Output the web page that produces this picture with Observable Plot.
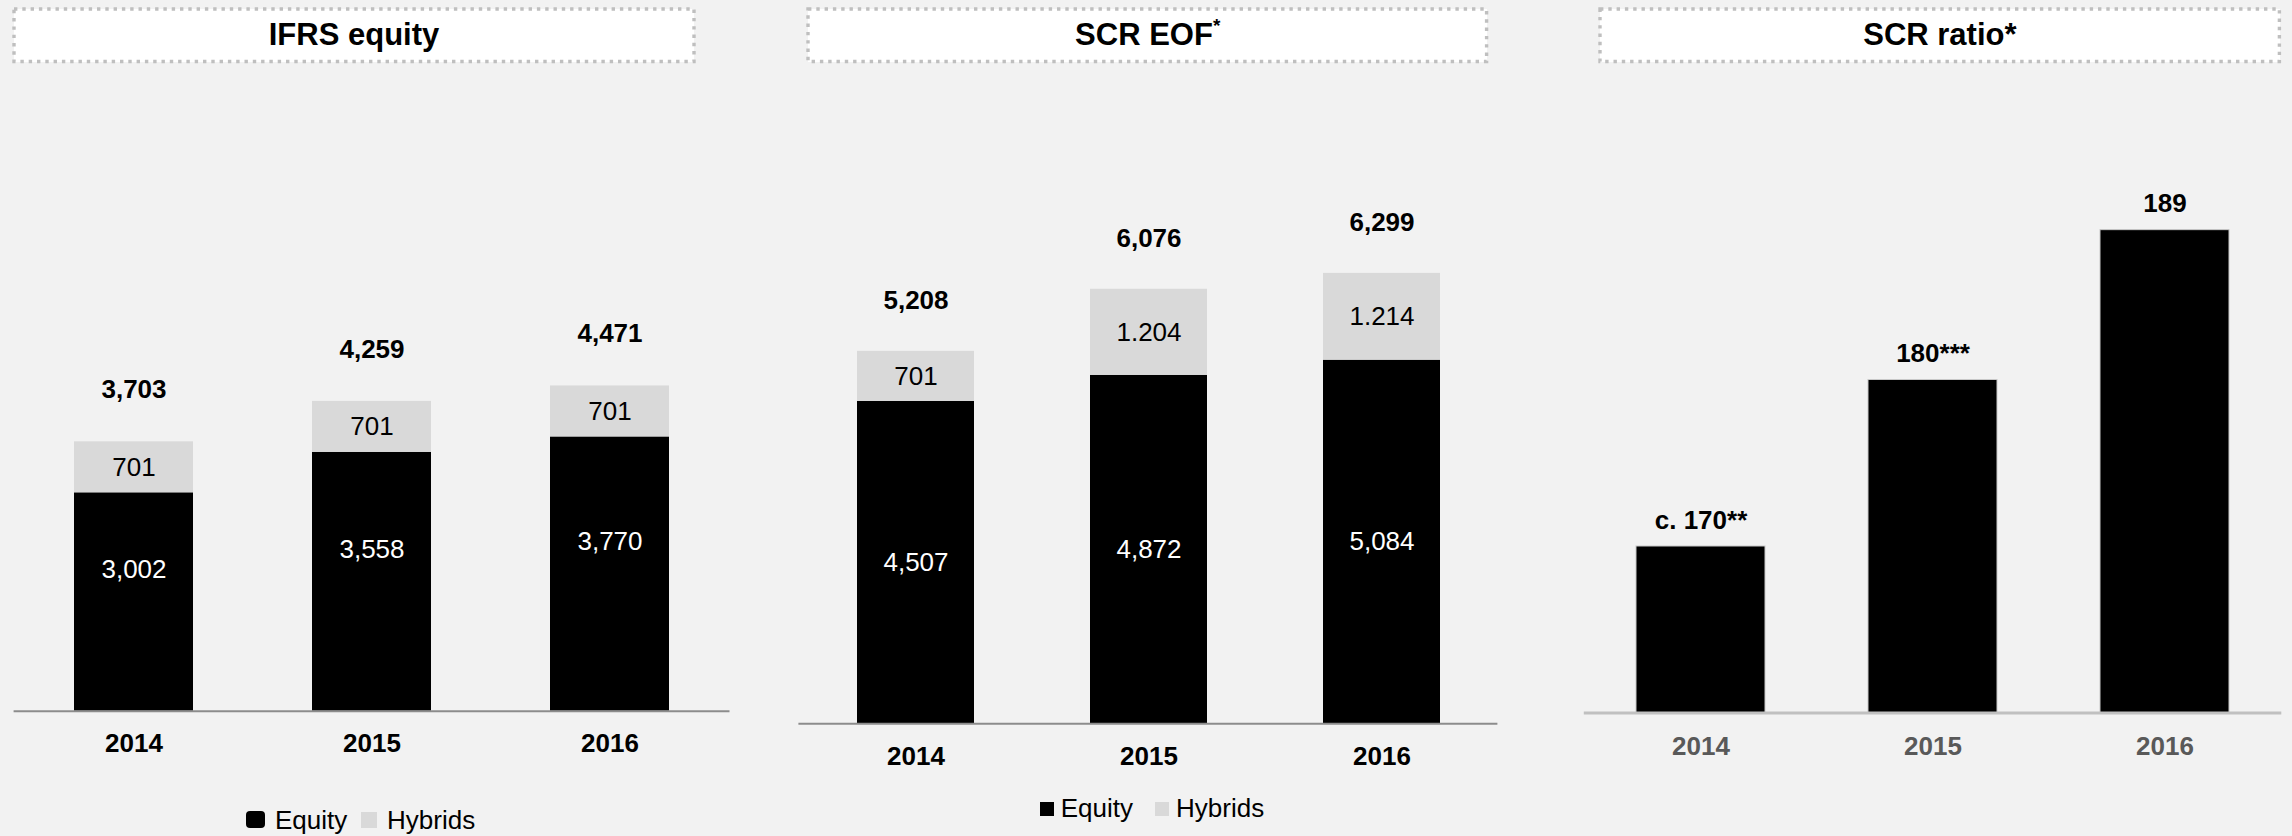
<!DOCTYPE html>
<html>
<head>
<meta charset="utf-8">
<script src="https://cdn.jsdelivr.net/npm/d3@7"></script>
<script src="https://cdn.jsdelivr.net/npm/@observablehq/plot@0.6"></script>
<style>
  html, body { margin: 0; padding: 0; background: #f2f2f2; }
  body { font-family: "Liberation Sans", Arial, Helvetica, sans-serif; }
  #root { position: relative; width: 2292px; height: 836px; overflow: hidden; background: #f2f2f2; }
  .panel { position: absolute; top: 0; }
  .titlebox { position: absolute; background: #ffffff; }
  .titlebox svg { position: absolute; left: 0; top: 0; overflow: visible; }
  .titlebox .t { position: absolute; left: 0; right: 0; top: 0; bottom: 0; display: flex; align-items: center; justify-content: center;
                 font-weight: bold; font-size: 31px; color: #000; }
  .legend { position: absolute; font-size: 26px; line-height: 26px; color: #000; white-space: nowrap; }
  .legend .sw { position: absolute; }
  .legend .lb { position: absolute; top: 0; }
</style>
</head>
<body>
<div id="root"></div>
<script>
// ---------- data ----------
const years = ["2014", "2015", "2016"];
const seriesNames = ["Equity", "Hybrids"];
const seriesColors = ["#000000", "#d9d9d9"];

const ifrsEquity = [3002, 3558, 3770];
const ifrsHybrids = [701, 701, 701];
const ifrsTotals = [3703, 4259, 4471];

const eofEquity = [4507, 4872, 5084];
const eofHybrids = [701, 1204, 1214];
const eofHybridLabels = ["701", "1.204", "1.214"];
const eofTotals = [5208, 6076, 6299];

const ratioValues = [170, 180, 189];
const ratioLabels = ["c. 170**", "180***", "189"];
const ratioAxisMin = 160;

const titles = ["IFRS equity", "SCR EOF", "SCR ratio*"];

// ---------- helpers ----------
const fmt = d3.format(",");
const FONT = '"Liberation Sans", Arial, Helvetica, sans-serif';
const root = document.getElementById("root");

function stackedRows(equity, hybrids) {
  const rows = [];
  years.forEach((y, i) => {
    rows.push({year: y, series: seriesNames[0], value: equity[i]});
    rows.push({year: y, series: seriesNames[1], value: hybrids[i]});
  });
  return rows;
}

function place(el, left) {
  el.classList.add("panel");
  el.style.left = left + "px";
  root.appendChild(el);
}

function stackedPanel(cfg) {
  const rows = stackedRows(cfg.equity, cfg.hybrids);
  const idx = years.map((_, i) => i);
  return Plot.plot({
    width: cfg.width, height: 836,
    marginLeft: cfg.ml, marginRight: cfg.mr, marginTop: cfg.mt, marginBottom: cfg.mb,
    x: {domain: years, paddingInner: 0.5, paddingOuter: cfg.po, label: null},
    y: {domain: [0, cfg.ymax], axis: null},
    color: {domain: seriesNames, range: seriesColors},
    style: {background: "transparent", fontFamily: FONT, overflow: "visible"},
    marks: [
      Plot.barY(rows, Plot.stackY({x: "year", y: "value", fill: "series", order: null})),
      Plot.ruleY([0], {stroke: "#8c8c8c", strokeWidth: 2}),
      Plot.axisX({tickSize: 0, tickPadding: cfg.tp, fontSize: 26, fontWeight: "bold", fill: "#000", label: null}),
      // labels inside equity segment
      Plot.text(idx, {x: i => years[i], y: i => cfg.equity[i] / 2, text: i => fmt(cfg.equity[i]),
        dy: cfg.eqDy, fill: "#ffffff", fontSize: 26}),
      // labels inside hybrid segment (midpoint)
      Plot.text(idx, {x: i => years[i], y: i => cfg.equity[i] + cfg.hybrids[i] / 2, text: i => cfg.hybridLabels[i],
        fill: "#000000", fontSize: 26}),
      // totals above
      Plot.text(idx, {x: i => years[i], y: i => cfg.equity[i] + cfg.hybrids[i], text: i => fmt(cfg.totals[i]),
        dy: cfg.totalDy, fill: "#000", fontSize: 26, fontWeight: "bold"})
    ]
  });
}

// ---------- panel 1: IFRS equity ----------
const p1 = stackedPanel({
  width: 760, ml: 13.6, mr: 30.5, mt: 80, mb: 125.3, po: 0.248, ymax: 8670, tp: 22, eqDy: -32,
  equity: ifrsEquity, hybrids: ifrsHybrids, hybridLabels: ifrsHybrids.map(fmt), totals: ifrsTotals, totalDy: -52
});
place(p1, 0);

// ---------- panel 2: SCR EOF ----------
const p2 = stackedPanel({
  width: 760, ml: 18.4, mr: 42.6, mt: 79.7, mb: 112.8, po: 0.249, ymax: 9000, tp: 23, eqDy: 0,
  equity: eofEquity, hybrids: eofHybrids, hybridLabels: eofHybridLabels, totals: eofTotals, totalDy: -51
});
place(p2, 780);

// ---------- panel 3: SCR ratio ----------
const idx3 = years.map((_, i) => i);
const p3 = Plot.plot({
  width: 722, height: 836,
  marginLeft: 13.8, marginRight: 10.7, marginTop: 46.5, marginBottom: 123.5,
  x: {domain: years, paddingInner: 0.446, paddingOuter: 0.2216, label: null},
  y: {domain: [ratioAxisMin, 200], axis: null},
  style: {background: "transparent", fontFamily: FONT, overflow: "visible"},
  marks: [
    Plot.barY(idx3, {x: i => years[i], y1: ratioAxisMin, y2: i => ratioValues[i], fill: "#000", stroke: "#c8c8c8", strokeWidth: 1}),
    Plot.ruleY([ratioAxisMin], {stroke: "#c0c0c0", strokeWidth: 3}),
    Plot.axisX({tickSize: 0, tickPadding: 24, fontSize: 26, fontWeight: "bold", fill: "#595959", label: null}),
    Plot.text(idx3, {x: i => years[i], y: i => ratioValues[i], text: i => ratioLabels[i], dy: -26,
      fill: "#000", fontSize: 26, fontWeight: "bold"})
  ]
});
place(p3, 1570);

// ---------- title boxes ----------
function titleBox(left, top, w, h, html) {
  const d = document.createElement("div");
  d.className = "titlebox";
  Object.assign(d.style, {left: left + "px", top: top + "px", width: w + "px", height: h + "px"});
  const ns = "http://www.w3.org/2000/svg";
  const svg = document.createElementNS(ns, "svg");
  svg.setAttribute("width", w); svg.setAttribute("height", h);
  const r = document.createElementNS(ns, "rect");
  r.setAttribute("x", 0); r.setAttribute("y", 0); r.setAttribute("width", w); r.setAttribute("height", h);
  r.setAttribute("fill", "none"); r.setAttribute("stroke", "#bfbfbf"); r.setAttribute("stroke-width", 3.4);
  r.setAttribute("stroke-dasharray", "3.4 4.9");
  svg.appendChild(r);
  d.appendChild(svg);
  const t = document.createElement("div");
  t.className = "t";
  t.innerHTML = html;
  d.appendChild(t);
  root.appendChild(d);
}
titleBox(14, 9, 680, 52.5, titles[0]);
titleBox(808.4, 9, 678.6, 52.5, titles[1] + '<span style="font-size:19px;position:relative;top:-9px;">*</span>');
titleBox(1600.2, 9, 679.4, 52.5, titles[2]);

// ---------- legends ----------
function legend(left, top, items) {
  const d = document.createElement("div");
  d.className = "legend";
  Object.assign(d.style, {left: left + "px", top: top + "px"});
  items.forEach(it => {
    const s = document.createElement("div");
    s.className = "sw";
    Object.assign(s.style, {left: it.sx + "px", top: it.sy + "px", width: it.sw + "px", height: it.sh + "px",
      background: it.color, borderRadius: (it.r || 0) + "px"});
    d.appendChild(s);
    const l = document.createElement("div");
    l.className = "lb";
    l.style.left = it.tx + "px";
    l.textContent = it.name;
    d.appendChild(l);
  });
  root.appendChild(d);
}
legend(246, 807, [
  {name: seriesNames[0], color: seriesColors[0], sx: 0, sy: 4, sw: 19, sh: 17, r: 4, tx: 29},
  {name: seriesNames[1], color: seriesColors[1], sx: 115, sy: 5, sw: 16, sh: 16, tx: 141}
]);
legend(1040, 794.7, [
  {name: seriesNames[0], color: seriesColors[0], sx: 0, sy: 7, sw: 14, sh: 14, tx: 20.7},
  {name: seriesNames[1], color: seriesColors[1], sx: 115, sy: 7, sw: 14, sh: 14, tx: 136}
]);
</script>
</body>
</html>
